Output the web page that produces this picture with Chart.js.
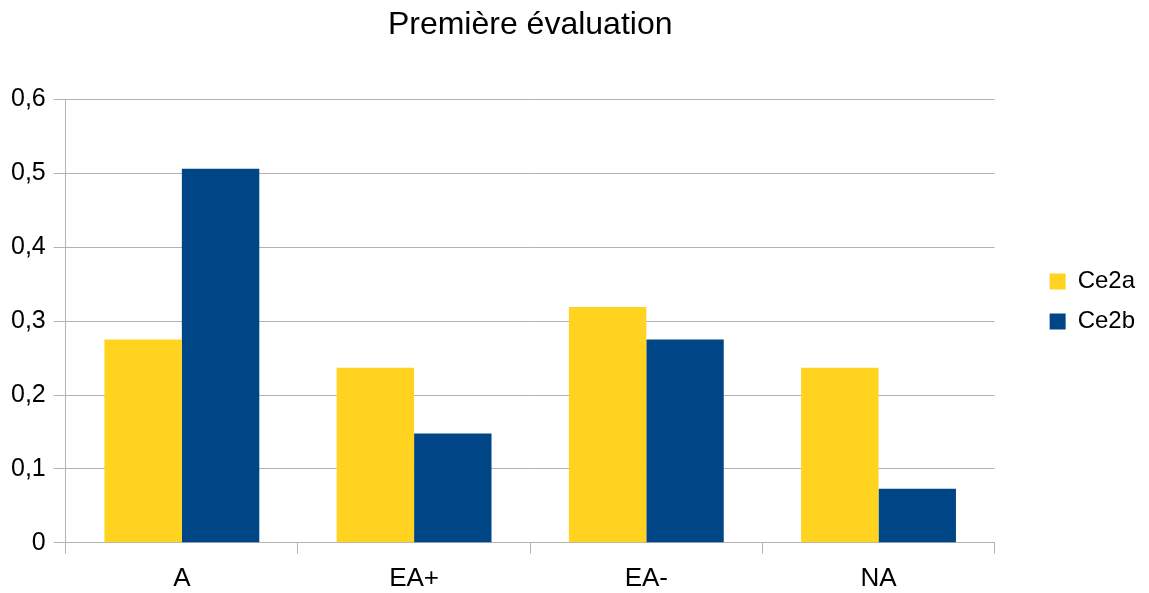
<!DOCTYPE html>
<html>
<head>
<meta charset="utf-8">
<script src="https://cdn.jsdelivr.net/npm/chart.js@4.4.1/dist/chart.umd.min.js"></script>
<style>
  html, body { margin: 0; padding: 0; background: #fff; }
  #wrap { width: 1149px; height: 593px; position: relative; }
</style>
</head>
<body>
<div id="wrap"><canvas id="myChart"></canvas></div>
<script>
var categories = ['A', 'EA+', 'EA-', 'NA'];
var ce2a = [0.275, 0.237, 0.319, 0.237];
var ce2b = [0.506, 0.148, 0.275, 0.073];
var yTickLabels = ['0', '0,1', '0,2', '0,3', '0,4', '0,5', '0,6'];

var font = 'Liberation Sans, Arial, sans-serif';
var gridGrey = '#b3b3b3';

var ctx = document.getElementById('myChart').getContext('2d');
var myChart = new Chart(ctx, {
    type: 'bar',
    data: {
        labels: categories,
        datasets: [{
            label: 'Ce2a',
            data: ce2a,
            backgroundColor: '#ffd320',
            borderWidth: 0
        }, {
            label: 'Ce2b',
            data: ce2b,
            backgroundColor: '#004586',
            borderWidth: 0
        }]
    },
    options: {
        responsive: true,
        maintainAspectRatio: false,
        animation: false,
        categoryPercentage: 0.667,
        barPercentage: 1,
        layout: {
            // the x axis reserves its tick padding twice, give it back
            padding: { left: 3, right: 4, top: 0, bottom: -10 }
        },
        plugins: {
            title: {
                display: true,
                fullSize: false,
                text: 'Première évaluation',
                color: '#000',
                font: { family: font, size: 32, weight: 'normal' },
                padding: { top: 6, bottom: 55 }
            },
            legend: {
                position: 'right',
                labels: {
                    color: '#000',
                    font: { family: font, size: 24 },
                    boxWidth: 16,
                    boxHeight: 16,
                    padding: 16
                }
            },
            tooltip: { enabled: false }
        },
        scales: {
            x: {
                grid: {
                    offset: true,
                    drawOnChartArea: false,
                    color: gridGrey,
                    tickLength: 11
                },
                border: { color: gridGrey },
                ticks: {
                    color: '#000',
                    padding: 9,
                    font: { family: font, size: 26 }
                }
            },
            y: {
                min: 0,
                max: 0.6,
                grid: {
                    color: gridGrey,
                    tickLength: 12
                },
                border: { color: gridGrey },
                ticks: {
                    stepSize: 0.1,
                    color: '#000',
                    padding: 8,
                    font: { family: font, size: 25 },
                    callback: function (value, index) {
                        return yTickLabels[index];
                    }
                }
            },
            gap: {
                type: 'linear',
                position: 'right',
                display: true,
                grid: { display: false, drawTicks: false },
                ticks: { display: false },
                border: { display: false },
                afterFit: function (scale) {
                    scale.width = 39;
                }
            }
        }
    }
});
</script>
</body>
</html>
